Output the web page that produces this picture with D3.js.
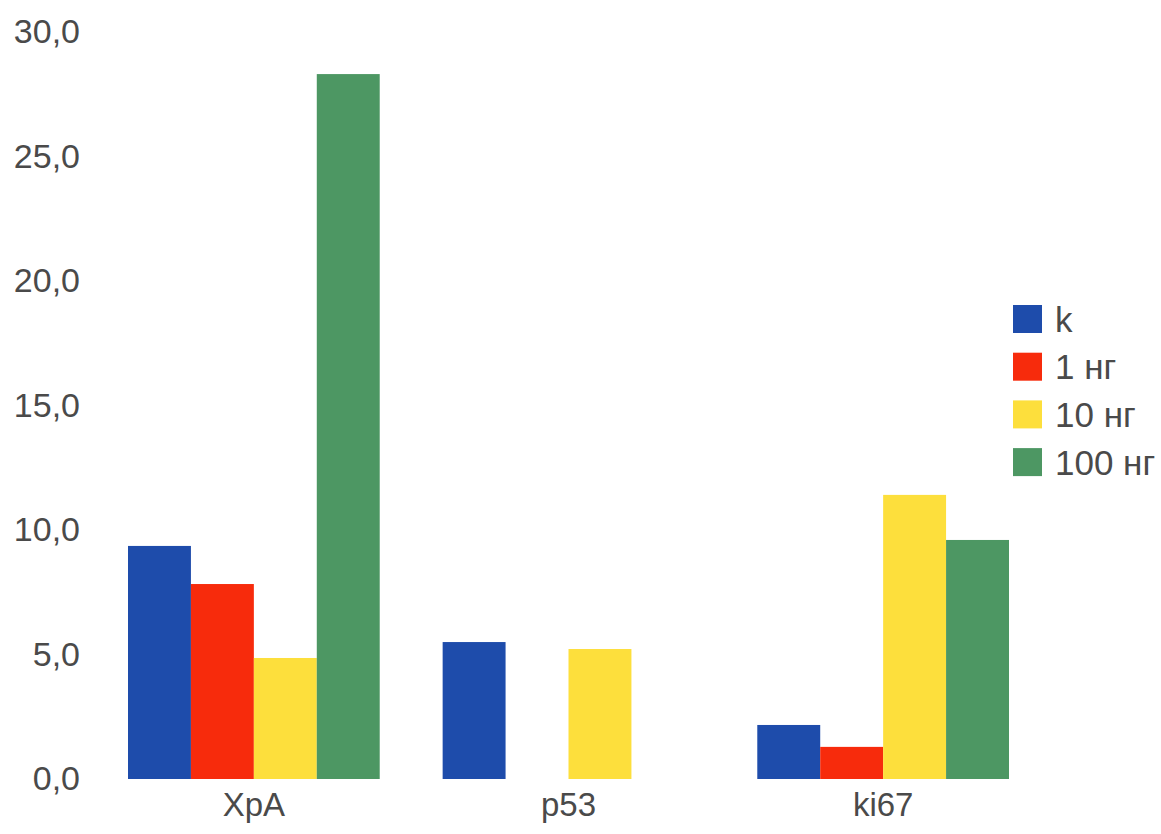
<!DOCTYPE html>
<html>
<head>
<meta charset="utf-8">
<script src="https://cdn.jsdelivr.net/npm/d3@7"></script>
<style>
  body { margin: 0; background: #fff; }
  text { font-family: "Liberation Sans", Arial, sans-serif; fill: #4a4a4a; }
</style>
</head>
<body>
<div id="chart"></div>
<script>
// data
var categories = ["XpA", "p53", "ki67"];
var seriesNames = ["k", "1 нг", "10 нг", "100 нг"];
var valuesK = [9.36, 5.50, 2.17];
var values1 = [7.83, 0, 1.29];
var values10 = [4.86, 5.22, 11.41];
var values100 = [28.31, 0, 9.60];
var yTicks = [0, 5, 10, 15, 20, 25, 30];
var colors = ["#1e4cab", "#f72b0c", "#fddf3c", "#4d9763"];

var seriesValues = [valuesK, values1, values10, values100];

var width = 1161, height = 834;

var svg = d3.select("#chart").append("svg")
    .attr("width", width)
    .attr("height", height);

// scales
var x0 = d3.scaleBand()
    .domain(categories)
    .range([128, 1009])
    .paddingInner(0.2)
    .paddingOuter(0);

var x1 = d3.scaleBand()
    .domain(seriesNames)
    .range([0, x0.bandwidth()]);

var y = d3.scaleLinear()
    .domain([0, 30])
    .range([779, 32]);

var color = d3.scaleOrdinal().domain(seriesNames).range(colors);

// y axis labels only, no line
var yAxis = svg.append("g")
    .attr("transform", "translate(80,0)")
    .call(d3.axisLeft(y)
        .tickValues(yTicks)
        .tickSize(0)
        .tickPadding(0)
        .tickFormat(function (d) { return d3.format(".1f")(d).replace(".", ","); }));
yAxis.select(".domain").remove();
yAxis.selectAll("text")
    .style("font-size", "34px")
    .attr("fill", "#4a4a4a");

// bars
var rows = [];
categories.forEach(function (c, i) {
    seriesNames.forEach(function (s, j) {
        rows.push({ cat: c, series: s, value: seriesValues[j][i] });
    });
});

svg.append("g").selectAll("rect")
    .data(rows.filter(function (d) { return d.value > 0; }))
    .enter().append("rect")
    .attr("x", function (d) { return x0(d.cat) + x1(d.series); })
    .attr("y", function (d) { return y(d.value); })
    .attr("width", x1.bandwidth())
    .attr("height", function (d) { return y(0) - y(d.value); })
    .style("fill", function (d) { return color(d.series); });

// category labels
var xAxis = svg.append("g")
    .attr("transform", "translate(0," + y(0) + ")")
    .call(d3.axisBottom(x0).tickSize(0).tickPadding(14));
xAxis.select(".domain").remove();
xAxis.selectAll("text")
    .style("font-size", "33px")
    .attr("fill", "#4a4a4a");

// legend
var legend = svg.append("g")
    .attr("transform", "translate(1013,305)");

var item = legend.selectAll("g")
    .data(seriesNames)
    .enter().append("g")
    .attr("transform", function (d, i) { return "translate(0," + (i * 47.7) + ")"; });

item.append("rect")
    .attr("width", 29)
    .attr("height", 28)
    .style("fill", function (d) { return color(d); });

item.append("text")
    .attr("x", 42)
    .attr("y", 14)
    .attr("dy", "0.36em")
    .style("font-size", "35px")
    .text(function (d) { return d; });
</script>
</body>
</html>
